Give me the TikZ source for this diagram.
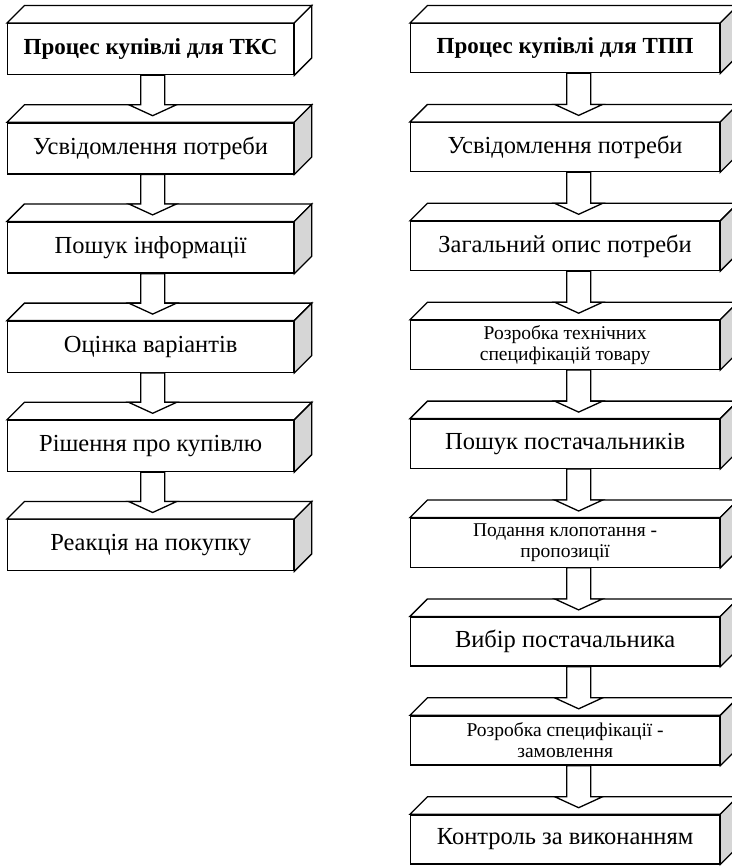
\documentclass[tikz,border=0pt]{standalone}
\usepackage{fontspec}
\setmainfont{Liberation Serif}
\usetikzlibrary{calc}

\definecolor{sideface}{gray}{0.84}

\tikzset{
  face/.style={draw=black, line width=1.3pt, line join=miter, fill=white},
  stage/.style={face, anchor=north west, inner sep=0pt, align=center,
    font=\fontsize{24.5}{27}\selectfont},
  small/.style={font=\fontsize{19.5}{21}\selectfont},
  title/.style={font=\fontsize{23}{26}\selectfont\bfseries},
  leftbox/.style={stage, minimum width=286pt, minimum height=51pt},
  rightbox/.style={stage, minimum width=309pt, minimum height=49pt},
  arrowbox/.style={face}
}

% top and side faces of a block; #2 = fill of the side face
\newcommand\blockfaces[2]{%
  \draw[face] (#1.north west) -- ++(17.5pt,17.5pt)
    -- ($(#1.north east)+(17.5pt,17.5pt)$) -- (#1.north east) -- cycle;
  \draw[face, fill=#2] (#1.north east) -- ++(17.5pt,17.5pt)
    -- ($(#1.south east)+(17.5pt,17.5pt)$) -- (#1.south east) -- cycle;}

% hollow block arrow from one block to the next; #3 = horizontal offset
\newcommand\blockarrow[3]{%
  \draw[arrowbox] let \p1=($(#1.south)+(#3,0pt)$), \p2=(#2.north) in
    (\x1-12pt,\y1) -- (\x1-12pt,\y2+17.5pt) -- (\x1-24pt,\y2+17.5pt)
    -- (\x1,\y2+6.5pt) -- (\x1+24pt,\y2+17.5pt) -- (\x1+12pt,\y2+17.5pt)
    -- (\x1+12pt,\y1) -- cycle;}

\begin{document}
\begin{tikzpicture}[x=1pt,y=-1pt]
\useasboundingbox (0,0) rectangle (731,867);

% consumer market (left column)
\node[leftbox, title] (l1) at (7,23)    {Процес купівлі для ТКС};
\node[leftbox] (l2) at (7,122.2)  {Усвідомлення потреби};
\node[leftbox] (l3) at (7,221.4)  {Пошук інформації};
\node[leftbox] (l4) at (7,320.6)  {Оцінка варіантів};
\node[leftbox] (l5) at (7,419.8)  {Рішення про купівлю};
\node[leftbox] (l6) at (7,519)    {Реакція на покупку};

% industrial market (right column)
\node[rightbox, title] (r1) at (410,23)    {Процес купівлі для ТПП};
\node[rightbox] (r2) at (410,121.9)  {Усвідомлення потреби};
\node[rightbox] (r3) at (410,220.8)  {Загальний опис потреби};
\node[rightbox, small] (r4) at (410,319.7)  {Розробка технічних\\специфікацій товару};
\node[rightbox] (r5) at (410,418.6)  {Пошук постачальників};
\node[rightbox, small] (r6) at (410,517.5)  {Подання клопотання -\\пропозиції};
\node[rightbox] (r7) at (410,616.4)  {Вибір постачальника};
\node[rightbox, small] (r8) at (410,715.3)  {Розробка специфікації -\\замовлення};
\node[rightbox] (r9) at (410,814.2)  {Контроль за виконанням};

\blockfaces{l1}{white}
\foreach \n in {l2,l3,l4,l5,l6,r1,r2,r3,r4,r5,r6,r7,r8,r9}{\blockfaces{\n}{sideface}}

\foreach \a/\b in {l1/l2,l2/l3,l3/l4,l4/l5,l5/l6}{\blockarrow{\a}{\b}{2pt}}
\foreach \a/\b in {r1/r2,r2/r3,r3/r4,r4/r5,r5/r6,r6/r7,r7/r8,r8/r9}{\blockarrow{\a}{\b}{13.5pt}}
\end{tikzpicture}
\end{document}
